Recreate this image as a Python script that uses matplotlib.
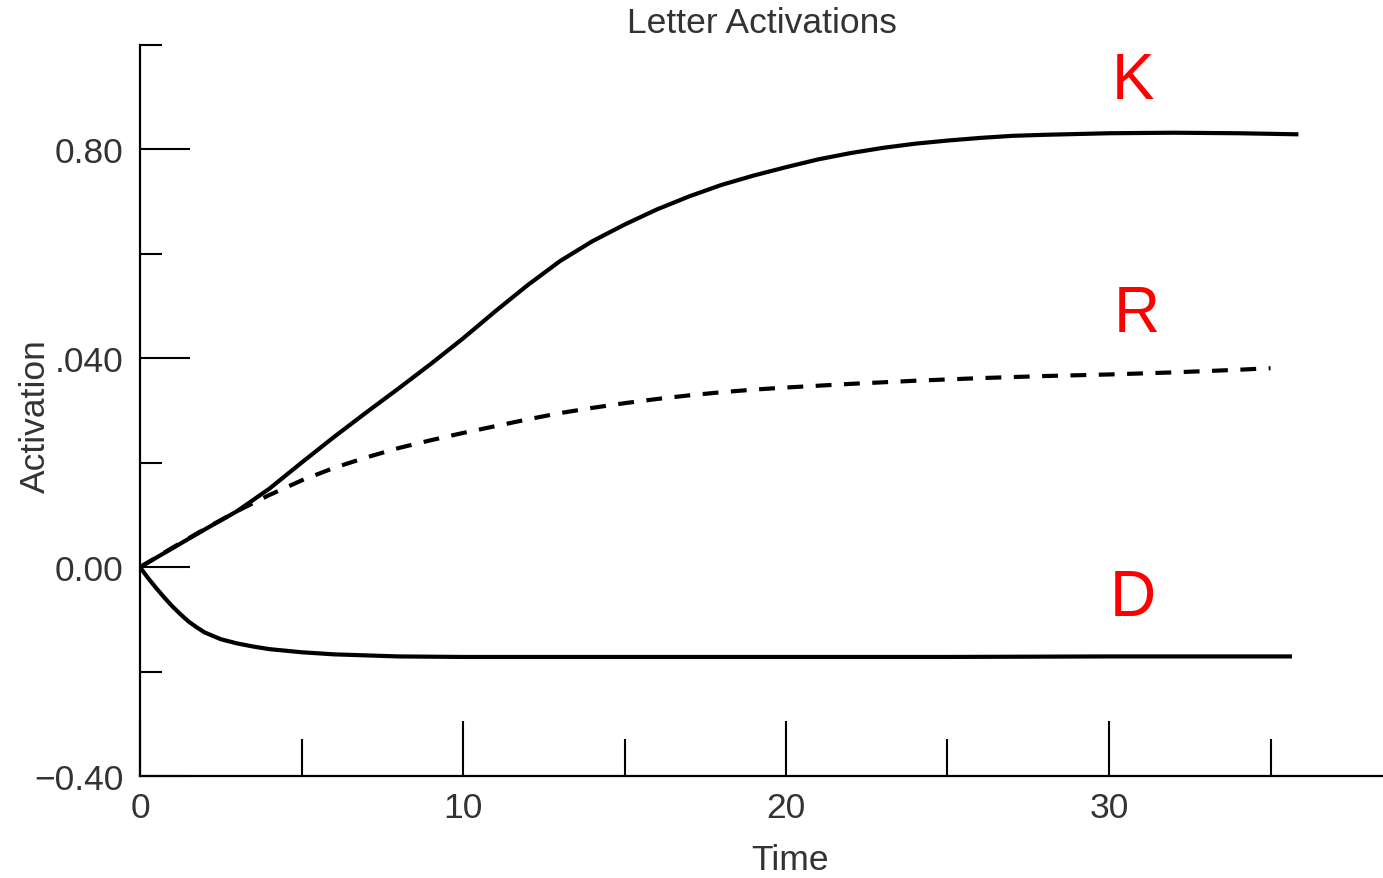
import matplotlib
matplotlib.use("Agg")
import matplotlib.pyplot as plt
from matplotlib.ticker import FixedLocator, FixedFormatter

# Letter activation curves
k_time = [0, 1, 2, 3, 4, 5, 6, 7, 8, 9, 10, 11, 12, 13, 14, 15, 16, 17, 18, 19, 20,
          21, 22, 23, 24, 25, 26, 27, 28, 30, 32, 34, 35.8]
k_act = [0.0, 0.036, 0.072, 0.107, 0.15, 0.2, 0.249, 0.296, 0.342, 0.389, 0.438,
         0.49, 0.54, 0.586, 0.624, 0.656, 0.685, 0.71, 0.732, 0.75, 0.766,
         0.781, 0.793, 0.803, 0.811, 0.817, 0.822, 0.826, 0.828, 0.831, 0.832, 0.831, 0.829]

r_time = [0, 1, 2, 3, 4, 5, 6, 7, 8, 9, 10, 11, 12, 13, 14, 15, 16, 17, 18, 19, 20,
          22, 24, 26, 28, 30, 32, 34, 35]
r_act = [0.0, 0.037, 0.073, 0.107, 0.138, 0.166, 0.19, 0.21, 0.228, 0.243, 0.257,
         0.27, 0.283, 0.295, 0.305, 0.314, 0.322, 0.329, 0.335, 0.34, 0.344,
         0.351, 0.357, 0.362, 0.366, 0.369, 0.373, 0.378, 0.381]

d_time = [0, 0.25, 0.5, 0.75, 1, 1.25, 1.5, 1.75, 2, 2.5, 3, 3.5, 4, 5, 6, 7, 8,
          10, 15, 20, 25, 30, 35.6]
d_act = [0.0, -0.021, -0.04, -0.058, -0.075, -0.09, -0.104, -0.115, -0.125,
         -0.138, -0.146, -0.152, -0.157, -0.163, -0.167, -0.169, -0.171,
         -0.172, -0.172, -0.172, -0.172, -0.171, -0.171]

# Axis ticks and their (odd) labels as printed on the original
y_major = [-0.4, 0.0, 0.4, 0.8]
y_major_labels = ["\u22120.40", "0.00", ".040", "0.80"]
y_minor = [-0.2, 0.2, 0.6, 1.0]
x_major = [0, 10, 20, 30]
x_major_labels = ["0", "10", "20", "30"]
x_minor = [5, 15, 25, 35]

# Names written next to each curve
curve_names = ["K", "R", "D"]
name_x = [30.74, 30.87, 30.74]
name_y = [0.899, 0.453, -0.091]

plt.rcParams['font.family'] = ['Liberation Sans', 'DejaVu Sans']
text_col = '#333333'
fs = 25.5

W, H = 1383, 879
fig = plt.figure(figsize=(W / 100, H / 100), dpi=100)
ax = fig.add_axes([140 / W, 102 / H, 1243 / W, 731 / H])

ax.plot(k_time, k_act, color='black', lw=3.0, solid_joinstyle='round')
ax.plot(r_time, r_act, color='black', lw=3.0, dashes=(3.8, 3.0))
ax.plot(d_time, d_act, color='black', lw=3.0, solid_joinstyle='round')

for name, x, y in zip(curve_names, name_x, name_y):
    ax.text(x, y, name, color='red', fontsize=46, ha='center', va='baseline')

ax.set_xlim(0, 1243 / 32.3)
ax.set_ylim(-0.4, 1.0)

for side in ['top', 'right']:
    ax.spines[side].set_visible(False)
for side in ['left', 'bottom']:
    ax.spines[side].set_linewidth(1.6)

ax.yaxis.set_major_locator(FixedLocator(y_major))
ax.yaxis.set_major_formatter(FixedFormatter(y_major_labels))
ax.yaxis.set_minor_locator(FixedLocator(y_minor))
ax.xaxis.set_major_locator(FixedLocator(x_major))
ax.xaxis.set_major_formatter(FixedFormatter(x_major_labels))
ax.xaxis.set_minor_locator(FixedLocator(x_minor))

ax.tick_params(axis='y', which='major', direction='in', length=36, width=1.5,
               pad=12, labelsize=fs, labelcolor=text_col)
ax.tick_params(axis='y', which='minor', direction='in', length=16, width=1.5)
ax.tick_params(axis='x', which='major', direction='in', length=39.6, width=1.5,
               pad=11, labelsize=fs, labelcolor=text_col)
ax.tick_params(axis='x', which='minor', direction='in', length=26.6, width=1.5)

ax.set_title("Letter Activations", fontsize=fs, color=text_col, pad=9.4)
ax.set_xlabel("Time", fontsize=fs, color=text_col, va='baseline')
ax.xaxis.set_label_coords(0.523, -0.127)
fig.text(45 / W, 1 - 416 / H, "Activation", fontsize=fs, color=text_col,
         rotation=90, rotation_mode='anchor', ha='center', va='baseline')

fig.savefig("out.png", dpi=100)
